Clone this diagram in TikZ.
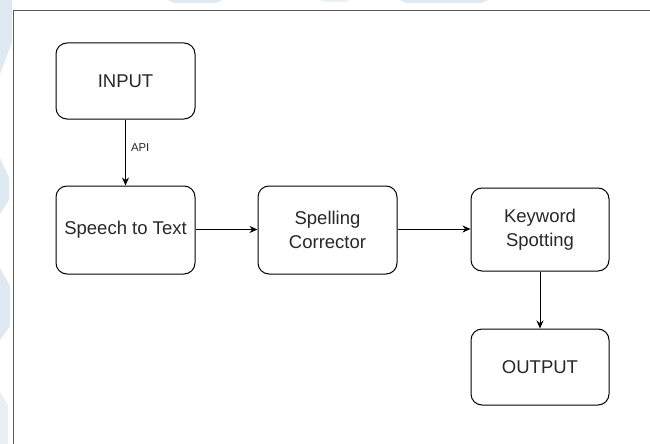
\documentclass[tikz,border=0pt]{standalone}
\usepackage{fontspec}
\setmainfont{Liberation Sans}
\usetikzlibrary{arrows.meta}
\definecolor{wm}{RGB}{222,233,241}
\definecolor{txt}{RGB}{40,40,40}
\definecolor{framec}{RGB}{90,90,90}
\begin{document}
\begin{tikzpicture}[x=1pt,y=-1pt,
  box/.style={draw=black,line width=1pt,rounded corners=11pt,fill=white,
    text=txt,align=center,inner sep=0pt,
    font=\fontsize{18.5}{24}\selectfont},
  conn/.style={draw=black,line width=1pt,-{Stealth[length=8pt,width=7pt]}},
  lbl/.style={text=txt,font=\fontsize{11.4}{13}\selectfont,inner sep=0pt}]
\useasboundingbox (0,0) rectangle (650,444);
\fill[white] (0,0) rectangle (650,444);
% faint watermark shapes
\fill[wm] (0,0) -- (12,0) -- (12,42) -- (0,74) -- cycle;
\fill[wm] (0,158) -- (9,178) -- (9,200) -- (0,214) -- cycle;
\fill[wm] (0,268) -- (10,286) -- (10,326) -- (0,340) -- cycle;
\fill[wm!70] (0,392) -- (8,405) -- (8,444) -- (0,444) -- cycle;
\fill[wm] (168,0) -- (222,0) -- (216,3) -- (174,3) -- cycle;
\fill[wm!60] (320,0) -- (350,0) -- (346,2) -- (324,2) -- cycle;
\fill[wm] (400,0) -- (488,0) -- (482,3) -- (406,3) -- cycle;
% frame
\draw[framec,line width=1.3pt] (13.5,444) -- (13.5,10.5) -- (650,10.5);
% nodes
\node[box,minimum width=139pt,minimum height=76pt] (in) at (125.5,81) {INPUT};
\node[box,minimum width=139pt,minimum height=88pt] (stt) at (125.5,230) {Speech to Text};
\node[box,minimum width=139pt,minimum height=88pt] (sc) at (327.5,230) {Spelling\\Corrector};
\node[box,minimum width=138pt,minimum height=83pt] (kw) at (540,229.5) {Keyword\\Spotting};
\node[box,minimum width=138pt,minimum height=76pt] (out) at (540,367) {OUTPUT};
% connectors
\draw[conn] (in) -- node[lbl,right=5pt,pos=0.42]{API} (stt);
\draw[conn] (stt.east |- 0,229.5) -- (sc.west |- 0,229.5);
\draw[conn] (sc.east |- 0,229) -- (kw.west |- 0,229);
\draw[conn] (kw) -- (out);
\end{tikzpicture}
\end{document}
